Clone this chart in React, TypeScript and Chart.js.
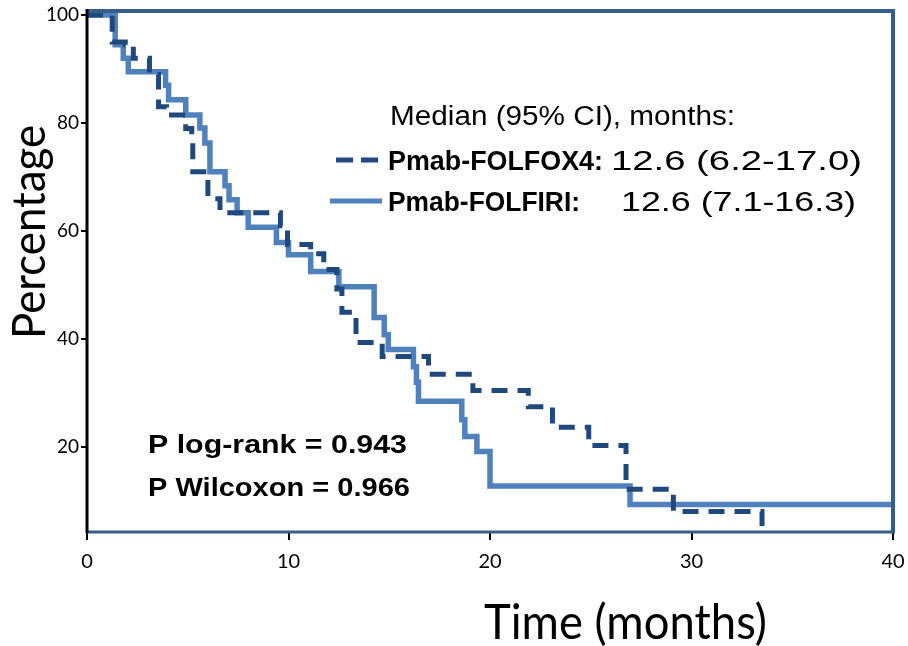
import React, { useEffect, useRef } from 'react';
import { Chart, registerables } from 'chart.js';

Chart.register(...registerables);

// Kaplan-Meier step data (time in months, survival %)
const folfoxTimes = [0, 1.25, 1.9, 2.3, 3.1, 3.55, 3.95, 4.9, 5.2, 5.25, 6.0, 6.6, 9.6, 9.95, 11.1, 11.75, 12.4, 12.65, 13.35, 14.65, 16.95, 19.15, 21.9, 23.1, 24.9, 26.75, 29.1, 33.5];
const folfoxSurv = [100, 95, 94.5, 92, 89, 83, 81.5, 79, 76.5, 71, 66, 63.4, 61, 57.5, 55.8, 52.9, 49.3, 45, 39.4, 36.8, 33.5, 30.5, 27.5, 23.7, 20.3, 12.2, 8.1, 0];

const folfiriTimes = [0, 1.4, 1.8, 2.05, 3.9, 4.05, 4.9, 5.6, 5.85, 6.1, 6.85, 7.05, 7.45, 8.0, 9.4, 10.0, 11.1, 12.5, 14.25, 14.75, 14.95, 16.2, 16.35, 16.45, 18.6, 18.75, 19.35, 20.0, 26.95, 40];
const folfiriSurv = [100, 94.5, 92, 89.5, 87, 84.3, 81.5, 79.1, 76.3, 71, 68.4, 65.8, 63.4, 60.7, 57.9, 55.6, 52.5, 49.7, 44, 40.8, 38.1, 34.9, 32, 28.5, 25.1, 22, 19.2, 12.8, 9.4, 9.4];

const xTicks = [0, 10, 20, 30, 40];
const yTicks = [20, 40, 60, 80, 100];

const DARK = '#1F497D';
const LIGHT = '#4F81BD';
const FRAME = '#385D8A';

function drawText(ctx: CanvasRenderingContext2D, text: string, x: number, y: number, font: string, width?: number) {
  ctx.save();
  ctx.font = font;
  ctx.textAlign = 'left';
  ctx.textBaseline = 'alphabetic';
  ctx.fillStyle = '#000';
  const w = ctx.measureText(text).width;
  ctx.translate(x, y);
  if (width) ctx.scale(width / w, 1);
  ctx.fillText(text, 0, 0);
  ctx.restore();
}

const ARIAL = '"Liberation Sans", Arial, sans-serif';
const TICKFONT = 'Lato, "Open Sans", sans-serif';

const decorPlugin = {
  id: 'decor',
  afterDatasetsDraw(chart: any) {
    const ctx: CanvasRenderingContext2D = chart.ctx;
    const a = chart.chartArea;
    ctx.save();
    // frame
    ctx.strokeStyle = FRAME;
    ctx.lineWidth = 4;
    ctx.beginPath();
    ctx.moveTo(a.left, a.top - 4);
    ctx.lineTo(a.right, a.top - 4);
    ctx.lineTo(a.right, a.bottom);
    ctx.stroke();
    ctx.lineWidth = 3;
    ctx.beginPath();
    ctx.moveTo(a.left, a.bottom);
    ctx.lineTo(a.right + 2, a.bottom);
    ctx.stroke();
    ctx.strokeStyle = '#000';
    ctx.lineWidth = 3;
    ctx.beginPath();
    ctx.moveTo(a.left, a.top - 6);
    ctx.lineTo(a.left, a.bottom + 1);
    ctx.stroke();

    // legend samples
    ctx.lineWidth = 5;
    ctx.strokeStyle = DARK;
    ctx.setLineDash([17, 8]);
    ctx.beginPath();
    ctx.moveTo(336, 160);
    ctx.lineTo(382, 160);
    ctx.stroke();
    ctx.setLineDash([]);
    ctx.strokeStyle = LIGHT;
    ctx.beginPath();
    ctx.moveTo(330, 201);
    ctx.lineTo(382, 201);
    ctx.stroke();
    ctx.restore();

    // annotation texts
    drawText(ctx, 'Median (95% CI), months:', 390, 125, `27px ${ARIAL}`, 345);
    drawText(ctx, 'Pmab-FOLFOX4:', 388, 170, `bold 27px ${ARIAL}`, 215);
    drawText(ctx, '12.6 (6.2-17.0)', 611, 170, `28px ${ARIAL}`, 251);
    drawText(ctx, 'Pmab-FOLFIRI:', 388, 211, `bold 27px ${ARIAL}`, 192);
    drawText(ctx, '12.6 (7.1-16.3)', 621, 211, `28px ${ARIAL}`, 235);
    drawText(ctx, 'P log-rank = 0.943', 148, 453, `bold 25px ${ARIAL}`, 259);
    drawText(ctx, 'P Wilcoxon = 0.966', 148, 496, `bold 25px ${ARIAL}`, 262);

    // axis titles
    drawText(ctx, 'Time (months)', 484, 639, `48px ${TICKFONT}`, 283);
    ctx.save();
    ctx.translate(45, 339);
    ctx.rotate(-Math.PI / 2);
    drawText(ctx, 'Percentage', 0, 0, `46px ${TICKFONT}`, 214);
    ctx.restore();
  },
};

export default function App() {
  const ref = useRef<HTMLCanvasElement | null>(null);
  useEffect(() => {
    if (!ref.current) return;
    const chart = new Chart(ref.current, {
      type: 'line',
      data: {
        datasets: [
          {
            label: 'Pmab-FOLFOX4',
            data: folfoxTimes.map((t, i) => ({ x: t, y: folfoxSurv[i] })),
            borderColor: DARK,
            borderWidth: 5,
            borderDash: [16, 10],
            stepped: 'before',
            pointRadius: 0,
            fill: false,
            clip: { left: 5, top: 5, right: 5, bottom: 0 },
          },
          {
            label: 'Pmab-FOLFIRI',
            data: folfiriTimes.map((t, i) => ({ x: t, y: folfiriSurv[i] })),
            borderColor: LIGHT,
            borderWidth: 5.5,
            stepped: 'before',
            pointRadius: 0,
            fill: false,
            clip: { left: 5, top: 5, right: 5, bottom: 0 },
          },
        ],
      },
      options: {
        animation: false,
        responsive: false,
        devicePixelRatio: 1,
        layout: { padding: { left: 0, top: 15, right: 15, bottom: 0 } },
        plugins: { legend: { display: false }, tooltip: { enabled: false } },
        scales: {
          x: {
            type: 'linear',
            min: 0,
            max: 40,
            afterBuildTicks: (s: any) => { s.ticks = xTicks.map((v) => ({ value: v })); },
            afterFit: (s: any) => { s.height = 114; s.paddingLeft = 0; s.paddingRight = 0; },
            grid: { drawOnChartArea: false, drawTicks: true, tickLength: 8, color: '#000', lineWidth: 2 },
            border: { display: false },
            ticks: { color: '#000', font: { family: TICKFONT, size: 20 }, padding: 10, maxRotation: 0 },
          },
          y: {
            type: 'linear',
            min: 4.3,
            max: 100,
            afterBuildTicks: (s: any) => { s.ticks = yTicks.map((v) => ({ value: v })); },
            afterFit: (s: any) => { s.width = 87; s.paddingTop = 0; s.paddingBottom = 0; },
            grid: { drawOnChartArea: false, drawTicks: true, tickLength: 6, color: '#000', lineWidth: 2 },
            border: { display: false },
            ticks: { color: '#000', font: { family: TICKFONT, size: 19 }, padding: 2 },
          },
        },
      },
      plugins: [decorPlugin],
    });
    return () => chart.destroy();
  }, []);
  return (
    <div style={{ position: 'absolute', left: 0, top: 0, width: 908, height: 646, background: '#fff' }}>
      <canvas ref={ref} width={908} height={646} style={{ width: 908, height: 646 }} />
    </div>
  );
}
